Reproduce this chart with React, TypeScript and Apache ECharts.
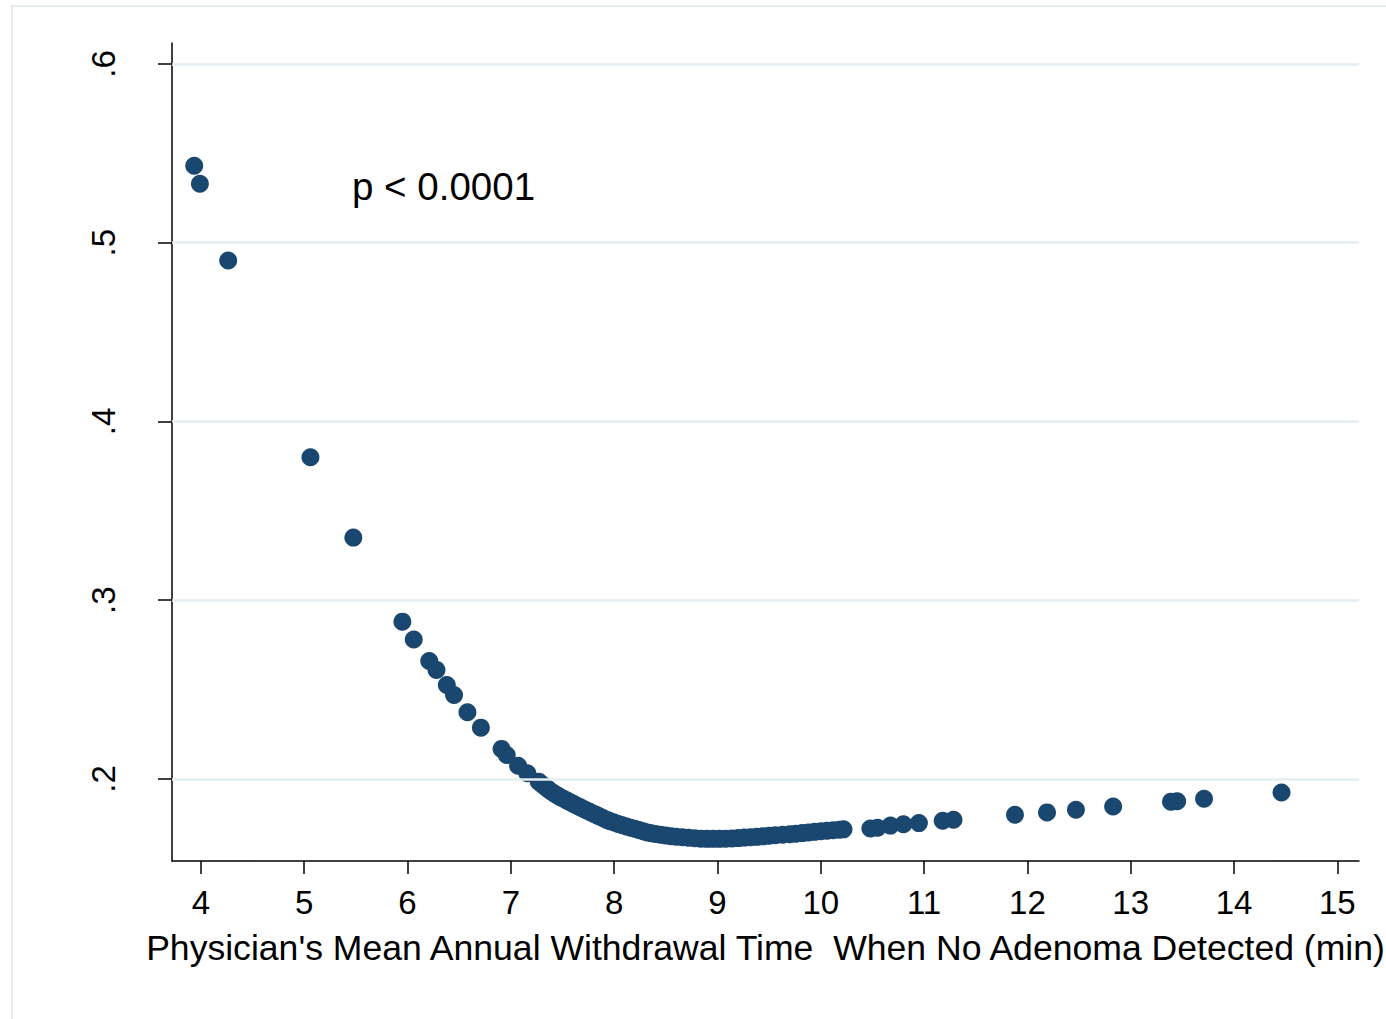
import React, { useEffect, useRef } from "react";
import * as echarts from "echarts";

// Physician's mean annual withdrawal time (min) when no adenoma detected
const withdrawalTime: number[] = [
  3.935, 3.99, 4.264, 5.06, 5.475, 5.95, 6.06, 6.21, 6.28, 6.38, 6.45, 6.58, 6.71, 6.91, 6.96, 7.07, 7.16, 7.27,
  7.30, 7.33, 7.36, 7.39, 7.42, 7.45, 7.48, 7.51, 7.54, 7.57, 7.60, 7.63, 7.66, 7.69, 7.72, 7.75, 7.78, 7.81,
  7.84, 7.87, 7.90, 7.93, 7.96, 8.00, 8.04, 8.08, 8.12, 8.16, 8.20, 8.24, 8.28, 8.32, 8.36, 8.40, 8.45, 8.50,
  8.55, 8.60, 8.66, 8.72, 8.78, 8.84, 8.90, 8.96, 9.02, 9.08, 9.14, 9.20, 9.26, 9.32, 9.38, 9.44, 9.50, 9.56,
  9.63, 9.70, 9.76, 9.82, 9.88, 9.94, 10.00, 10.06, 10.12, 10.18, 10.22,
  10.48, 10.55, 10.675, 10.80, 10.95, 11.18, 11.285, 11.88, 12.19, 12.47, 12.83, 13.39, 13.45, 13.71, 14.46,
];

// Predicted value on the y axis for each physician
const predictedRate: number[] = [
  0.543, 0.533, 0.490, 0.380, 0.335, 0.288, 0.278, 0.266, 0.261, 0.2526, 0.247, 0.2373, 0.2287, 0.2168, 0.2134, 0.2074, 0.2032, 0.1985,
  0.1970, 0.1956, 0.1943, 0.1930, 0.1919, 0.1908, 0.1898, 0.1889, 0.1880, 0.1871, 0.1862, 0.1853, 0.1845, 0.1836, 0.1828, 0.1820, 0.1811, 0.1803,
  0.1795, 0.1787, 0.1779, 0.1771, 0.1764, 0.1756, 0.1748, 0.1741, 0.1734, 0.1727, 0.1721, 0.1714, 0.1707, 0.1701, 0.1696, 0.1692, 0.1688, 0.1684,
  0.1680, 0.1677, 0.1674, 0.1671, 0.1668, 0.1666, 0.1665, 0.1665, 0.1665, 0.1666, 0.1667, 0.1669, 0.1672, 0.1674, 0.1676, 0.1679, 0.1682, 0.1685,
  0.1688, 0.1691, 0.1694, 0.1697, 0.1701, 0.1704, 0.1707, 0.1710, 0.1713, 0.1716, 0.1718,
  0.1723, 0.1727, 0.1739, 0.1747, 0.1753, 0.1766, 0.1772, 0.1800, 0.1813, 0.1828, 0.1846, 0.1873, 0.1875, 0.1889, 0.1924,
];

const xTickValues: number[] = [4, 5, 6, 7, 8, 9, 10, 11, 12, 13, 14, 15];
const yTickValues: number[] = [0.2, 0.3, 0.4, 0.5, 0.6];
const yTickLabels: string[] = [".2", ".3", ".4", ".5", ".6"];

const xAxisTitle = "Physician's Mean Annual Withdrawal Time  When No Adenoma Detected (min)";
const annotation = "p < 0.0001";

const FONT = "'Liberation Sans', Arial, Helvetica, sans-serif";

export default function App() {
  const ref = useRef<HTMLDivElement>(null);

  useEffect(() => {
    if (!ref.current) return;
    const chart = echarts.init(ref.current, undefined, { renderer: "svg" });
    const points = withdrawalTime.map((x, i) => [x, predictedRate[i]]);

    chart.setOption({
      animation: false,
      backgroundColor: "#ffffff",
      grid: { left: 172, right: 27, top: 43, bottom: 158, containLabel: false, outerBoundsMode: "none" },
      xAxis: {
        type: "value",
        min: 3.72,
        max: 15.21,
        name: xAxisTitle,
        nameLocation: "middle",
        nameGap: 69,
        nameTextStyle: { fontFamily: FONT, fontSize: 35.6, color: "#000" },
        axisLine: { show: true, onZero: false, lineStyle: { color: "#000", width: 1.5 } },
        axisTick: { show: true, length: 13, customValues: xTickValues, lineStyle: { color: "#000", width: 1.5 } },
        axisLabel: {
          customValues: xTickValues,
          margin: 25,
          fontFamily: FONT,
          fontSize: 33,
          color: "#000",
        },
        splitLine: { show: false },
      },
      yAxis: {
        type: "value",
        min: 0.1541,
        max: 0.6117,
        axisLine: { show: true, onZero: false, lineStyle: { color: "#000", width: 1.5 } },
        axisTick: { show: true, length: 14, customValues: yTickValues, lineStyle: { color: "#000", width: 1.5 } },
        axisLabel: {
          customValues: yTickValues,
          rotate: 90,
          margin: 52,
          fontFamily: FONT,
          fontSize: 33,
          color: "#000",
          formatter: (v: number) => {
            const idx = yTickValues.findIndex((t) => Math.abs(t - v) < 1e-9);
            return idx >= 0 ? yTickLabels[idx] : "";
          },
        },
        splitLine: { show: false },
      },
      graphic: [
        {
          type: "rect",
          silent: true,
          shape: { x: 12, y: 6, width: 1420, height: 1060 },
          style: { fill: "none", stroke: "#e4edf0", lineWidth: 2 },
          z: -1,
        },
        {
          type: "text",
          x: 352,
          y: 186,
          style: {
            text: annotation,
            fontFamily: FONT,
            fontSize: 38.5,
            fill: "#000",
            verticalAlign: "middle",
            textAlign: "left",
          },
        },
      ],
      series: [
        {
          type: "scatter",
          data: [],
          z: 1,
          silent: true,
          markLine: {
            silent: true,
            symbol: "none",
            label: { show: false },
            lineStyle: { color: "#e4edf0", width: 2.5, type: "solid" },
            data: yTickValues.map((v) => ({ yAxis: v })),
          },
        },
        {
          type: "scatter",
          z: 3,
          data: points,
          symbol: "circle",
          symbolSize: 18,
          itemStyle: { color: "#1a476f", opacity: 1 },
        },
      ],
    });

    return () => chart.dispose();
  }, []);

  return (
    <div
      ref={ref}
      style={{ position: "fixed", left: 0, top: 0, width: 1386, height: 1019, background: "#fff" }}
    />
  );
}
